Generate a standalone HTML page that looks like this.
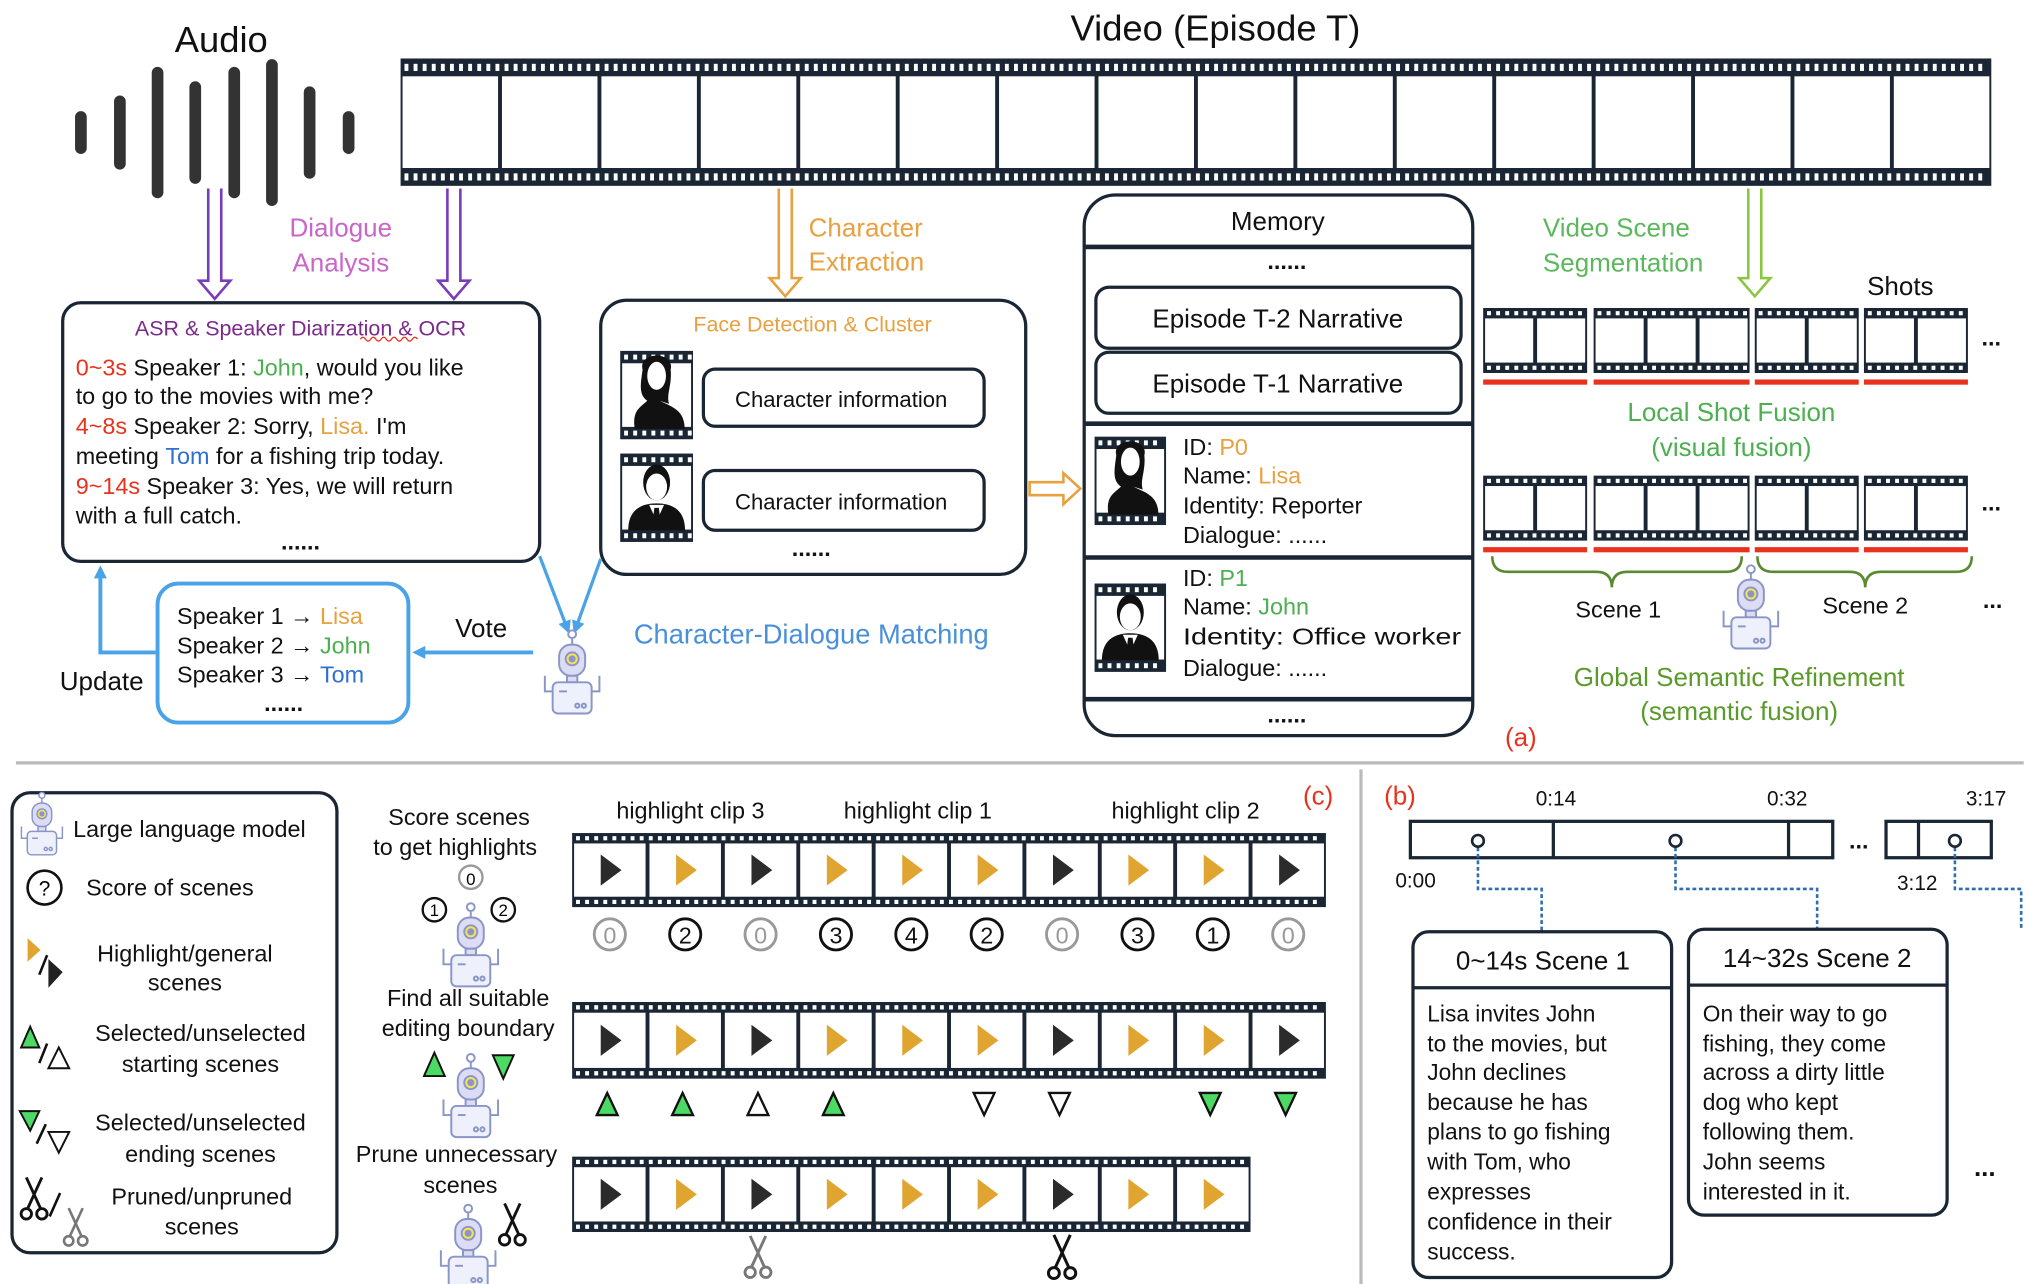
<!DOCTYPE html>
<html><head><meta charset="utf-8">
<style>
html,body{margin:0;padding:0;background:#fff;}
svg{display:block;}
text{font-family:"Liberation Sans",sans-serif;}
</style></head>
<body>
<svg id="s" width="2028" height="1284" viewBox="0 0 1560 988" xmlns="http://www.w3.org/2000/svg">
<defs>
<marker id="ab" markerWidth="10" markerHeight="10" refX="5" refY="5" orient="auto" markerUnits="userSpaceOnUse"><path d="M0,0 L10,5 L0,10 z" fill="#4aa3e8"/></marker>
</defs>
<g id="g"></g>
<!-- static text -->
<g font-size="18" fill="#111">
<text x="170" y="40" font-size="28" text-anchor="middle">Audio</text>
<text x="935" y="31" font-size="28" text-anchor="middle">Video (Episode T)</text>
<text x="262" y="182" font-size="20" fill="#c966c9" text-anchor="middle">Dialogue</text>
<text x="262" y="209" font-size="20" fill="#c966c9" text-anchor="middle">Analysis</text>
<text x="622" y="182" font-size="20" fill="#e8a040">Character</text>
<text x="622" y="208" font-size="20" fill="#e8a040">Extraction</text>
<text x="1187" y="182" font-size="20" fill="#5cb85c">Video Scene</text>
<text x="1187" y="209" font-size="20" fill="#5cb85c">Segmentation</text>
<text x="1462" y="227" font-size="20" text-anchor="middle">Shots</text>

<text x="231" y="258" font-size="16.5" fill="#7a2a8a" text-anchor="middle">ASR &amp; Speaker Diarization &amp; OCR</text>
<text x="58" y="289"><tspan fill="#e8321e">0~3s</tspan> Speaker 1: <tspan fill="#4caf50">John</tspan>, would you like</text>
<text x="58" y="311">to go to the movies with me?</text>
<text x="58" y="334"><tspan fill="#e8321e">4~8s</tspan> Speaker 2: Sorry, <tspan fill="#e8a040">Lisa.</tspan> I'm</text>
<text x="58" y="357">meeting <tspan fill="#2f6fd0">Tom</tspan> for a fishing trip today.</text>
<text x="58" y="380"><tspan fill="#e8321e">9~14s</tspan> Speaker 3: Yes, we will return</text>
<text x="58" y="403">with a full catch.</text>
<text x="231" y="423" text-anchor="middle" font-weight="bold">......</text>

<text x="625" y="255" font-size="16.5" fill="#e8a040" text-anchor="middle">Face Detection &amp; Cluster</text>
<text x="647" y="313" font-size="17" text-anchor="middle">Character information</text>
<text x="647" y="392" font-size="17" text-anchor="middle">Character information</text>
<text x="624" y="428" text-anchor="middle" font-weight="bold">......</text>

<text x="983" y="177" font-size="20" text-anchor="middle">Memory</text>
<text x="990" y="207" text-anchor="middle" font-weight="bold">......</text>
<text x="983" y="252" font-size="20" text-anchor="middle">Episode T-2 Narrative</text>
<text x="983" y="302" font-size="20" text-anchor="middle">Episode T-1 Narrative</text>
<text x="910" y="350">ID: <tspan fill="#e8a040">P0</tspan></text>
<text x="910" y="372">Name: <tspan fill="#e8a040">Lisa</tspan></text>
<text x="910" y="395">Identity: Reporter</text>
<text x="910" y="418">Dialogue: ......</text>
<text x="910" y="451">ID: <tspan fill="#4caf50">P1</tspan></text>
<text x="910" y="473">Name: <tspan fill="#4caf50">John</tspan></text>
<text x="910" y="496" textLength="214" lengthAdjust="spacingAndGlyphs">Identity: Office worker</text>
<text x="910" y="520">Dialogue: ......</text>
<text x="990" y="556" text-anchor="middle" font-weight="bold">......</text>

<text x="1532" y="266" text-anchor="middle" font-weight="bold">...</text>
<text x="1332" y="324" font-size="20" fill="#4caf50" text-anchor="middle">Local Shot Fusion</text>
<text x="1332" y="351" font-size="20" fill="#4caf50" text-anchor="middle">(visual fusion)</text>
<text x="1532" y="393" text-anchor="middle" font-weight="bold">...</text>
<text x="1245" y="475" text-anchor="middle">Scene 1</text>
<text x="1435" y="472" text-anchor="middle">Scene 2</text>
<text x="1533" y="468" text-anchor="middle" font-weight="bold">...</text>
<text x="1338" y="528" font-size="20" fill="#5a9a2a" text-anchor="middle">Global Semantic Refinement</text>
<text x="1338" y="554" font-size="20" fill="#5a9a2a" text-anchor="middle">(semantic fusion)</text>
<text x="1170" y="574" font-size="20" fill="#e8321e" text-anchor="middle">(a)</text>

<text x="624" y="495" font-size="21" fill="#4a90d9" text-anchor="middle">Character-Dialogue Matching</text>
<text x="370" y="490" font-size="20" text-anchor="middle">Vote</text>
<text x="78" y="531" font-size="20" text-anchor="middle">Update</text>
<text x="136" y="480">Speaker 1 → <tspan fill="#e8a040">Lisa</tspan></text>
<text x="136" y="503">Speaker 2 → <tspan fill="#4caf50">John</tspan></text>
<text x="136" y="525">Speaker 3 → <tspan fill="#2f6fd0">Tom</tspan></text>
<text x="218" y="547" text-anchor="middle" font-weight="bold">......</text>

<!-- legend -->
<text x="56" y="644">Large language model</text>
<text x="66" y="689">Score of scenes</text>
<text x="142" y="740" text-anchor="middle">Highlight/general</text>
<text x="142" y="762" text-anchor="middle">scenes</text>
<text x="154" y="801" text-anchor="middle">Selected/unselected</text>
<text x="154" y="825" text-anchor="middle">starting scenes</text>
<text x="154" y="870" text-anchor="middle">Selected/unselected</text>
<text x="154" y="894" text-anchor="middle">ending scenes</text>
<text x="155" y="927" text-anchor="middle">Pruned/unpruned</text>
<text x="155" y="950" text-anchor="middle">scenes</text>

<text x="353" y="635" text-anchor="middle">Score scenes</text>
<text x="350" y="658" text-anchor="middle">to get highlights</text>
<text x="360" y="774" text-anchor="middle">Find all suitable</text>
<text x="360" y="797" text-anchor="middle">editing boundary</text>
<text x="351" y="894" text-anchor="middle">Prune unnecessary</text>
<text x="354" y="918" text-anchor="middle">scenes</text>
<text x="531" y="630" text-anchor="middle">highlight clip 3</text>
<text x="706" y="630" text-anchor="middle">highlight clip 1</text>
<text x="912" y="630" text-anchor="middle">highlight clip 2</text>
<text x="1014" y="619" font-size="20" fill="#e8321e" text-anchor="middle">(c)</text>

<!-- b -->
<text x="1077" y="619" font-size="20" fill="#e8321e" text-anchor="middle">(b)</text>
<g font-size="16">
<text x="1197" y="620" text-anchor="middle">0:14</text>
<text x="1375" y="620" text-anchor="middle">0:32</text>
<text x="1528" y="620" text-anchor="middle">3:17</text>
<text x="1089" y="683" text-anchor="middle">0:00</text>
<text x="1475" y="685" text-anchor="middle">3:12</text>
</g>
<text x="1430" y="653" text-anchor="middle" font-weight="bold">...</text>
<text x="1187" y="746" font-size="20" text-anchor="middle">0~14s Scene 1</text>
<text x="1398" y="744" font-size="20" text-anchor="middle">14~32s Scene 2</text>
<g font-size="17.5">
<text x="1098" y="786">Lisa invites John</text>
<text x="1098" y="809">to the movies, but</text>
<text x="1098" y="831">John declines</text>
<text x="1098" y="854">because he has</text>
<text x="1098" y="877">plans to go fishing</text>
<text x="1098" y="900">with Tom, who</text>
<text x="1098" y="923">expresses</text>
<text x="1098" y="946">confidence in their</text>
<text x="1098" y="969">success.</text>
<text x="1310" y="786">On their way to go</text>
<text x="1310" y="809">fishing, they come</text>
<text x="1310" y="831">across a dirty little</text>
<text x="1310" y="854">dog who kept</text>
<text x="1310" y="877">following them.</text>
<text x="1310" y="900">John seems</text>
<text x="1310" y="923">interested in it.</text>
</g>
<text x="1527" y="905" font-size="20" text-anchor="middle" font-weight="bold">...</text>
</g>
</svg>
<script>
var o='';
var D='#1a2633';
function film(x,y,w,h,n,holes){
  var b=Math.max(8,h*0.14);
  o+='<rect x="'+x+'" y="'+y+'" width="'+w+'" height="'+h+'" fill="'+D+'"/>';
  var hw=3,step=7;
  for(var i=x+3;i<x+w-3;i+=step){
    o+='<rect x="'+i+'" y="'+(y+b*0.3)+'" width="'+hw+'" height="'+(b*0.4)+'" fill="#fff"/>';
    o+='<rect x="'+i+'" y="'+(y+h-b*0.7)+'" width="'+hw+'" height="'+(b*0.4)+'" fill="#fff"/>';
  }
  var fw=w/n;
  for(var k=0;k<n;k++){
    o+='<rect x="'+(x+k*fw+1.5)+'" y="'+(y+b)+'" width="'+(fw-3)+'" height="'+(h-2*b)+'" fill="#fff"/>';
  }
  return fw;
}
function robot(cx,cy,s){
  s=s||1;
  o+='<g transform="translate('+cx+','+cy+') scale('+s+')" stroke="#8a95c8" stroke-width="1.5" fill="none">';
  o+='<line x1="0" y1="-30" x2="0" y2="-24"/><circle cx="0" cy="-32" r="3" fill="#fff"/>';
  o+='<rect x="-10" y="-24" width="20" height="24" rx="9" fill="#dcdcf5"/>';
  o+='<circle cx="0" cy="-13" r="5" fill="#f7e25a"/><circle cx="0" cy="-13" r="2" fill="#8a95c8"/>';
  o+='<rect x="-4" y="0" width="8" height="5" fill="#dcdcf5"/>';
  o+='<rect x="-15" y="5" width="30" height="24" rx="4" fill="#eef1fb"/>';
  o+='<path d="M-15,12 h-6 v-12 M15,12 h6 v-12"/>';
  o+='<circle cx="4" cy="23" r="1.6"/><circle cx="9" cy="23" r="1.6"/><line x1="-10" y1="12" x2="-4" y2="12"/>';
  o+='</g>';
}
function play(cx,cy,c){
  o+='<path d="M'+(cx-7)+','+(cy-12)+' L'+(cx+9)+','+cy+' L'+(cx-7)+','+(cy+12)+' z" fill="'+c+'"/>';
}
function hollowDown(x,y1,y2,c){
  o+='<path d="M'+(x-5)+','+y1+' V'+(y2-14)+' H'+(x-12)+' L'+x+','+y2+' L'+(x+12)+','+(y2-14)+' H'+(x+5)+' V'+y1+'" fill="#fff" stroke="'+c+'" stroke-width="2"/>';
}
function woman(cx,cy,s){
  o+='<g transform="translate('+cx+','+cy+') scale('+s+')"><path d="M-9,-18 C-12,-30 12,-30 9,-18 C10,-8 6,-2 8,4 L2,2 C10,6 18,8 18,20 H-14 C-16,8 -10,6 -6,2 C-12,-2 -10,-10 -9,-18z" fill="#111"/><ellipse cx="0" cy="-14" rx="6" ry="9" fill="#fff"/></g>';
}
function man(cx,cy,s){
  o+='<g transform="translate('+cx+','+cy+') scale('+s+')"><ellipse cx="0" cy="-12" rx="9" ry="12" fill="#111"/><path d="M-19,20 C-19,6 -10,2 0,2 C10,2 19,6 19,20z" fill="#111"/><ellipse cx="0" cy="-9" rx="7" ry="9" fill="#fff"/><path d="M-5,3 L0,14 L5,3z" fill="#fff"/><path d="M-1.5,5 h3 l1,8 l-2.5,3 l-2.5,-3z" fill="#111"/></g>';
}
function portrait(x,y,w,h,type){
  film(x,y,w,h,1);
  if(type==0) woman(x+w/2,y+h/2+2,1.2); else man(x+w/2,y+h/2+2,1.15);
}
// audio bars
var bars=[[62,24],[92,48],[121,92],[150,70],[180,92],[209,104],[238,62],[268,24]];
bars.forEach(function(b){o+='<line x1="'+b[0]+'" y1="'+(102-b[1]/2)+'" x2="'+b[0]+'" y2="'+(102+b[1]/2)+'" stroke="#333" stroke-width="9" stroke-linecap="round"/>';});
// top video film
film(308,45,1224,98,16);
// arrows
hollowDown(165,145,230,'#7a3db8');hollowDown(349,145,230,'#7a3db8');
hollowDown(604,145,228,'#e8a040');
hollowDown(1350,145,228,'#8cc63f');
// orange right arrow
o+='<path d="M792,371 H818 V364 L831,376 L818,388 V381 H792z" fill="#fff" stroke="#e8a040" stroke-width="2"/>';
// ASR box
o+='<rect x="48" y="233" width="367" height="199" rx="14" fill="none" stroke="'+D+'" stroke-width="2.5"/>';
o+='<path d="M277,261 q2,-3 4,0 t4,0 t4,0 t4,0 t4,0 t4,0 t4,0 t4,0 t4,0 t4,0 t4,0" stroke="#e8321e" stroke-width="1" fill="none"/>';
// face box
o+='<rect x="462" y="231" width="327" height="211" rx="20" fill="none" stroke="'+D+'" stroke-width="2.5"/>';
portrait(477,270,56,68,0);portrait(477,349,56,68,1);
o+='<rect x="541" y="284" width="216" height="44" rx="9" fill="none" stroke="'+D+'" stroke-width="2.5"/>';
o+='<rect x="541" y="362" width="216" height="46" rx="9" fill="none" stroke="'+D+'" stroke-width="2.5"/>';
// memory box
o+='<rect x="834" y="150" width="299" height="416" rx="24" fill="none" stroke="'+D+'" stroke-width="2.5"/>';
[190,326,429,538].forEach(function(y){o+='<line x1="834" y1="'+y+'" x2="1133" y2="'+y+'" stroke="'+D+'" stroke-width="3.5"/>';});
o+='<rect x="843" y="221" width="281" height="47" rx="10" fill="none" stroke="'+D+'" stroke-width="2.5"/>';
o+='<rect x="843" y="271" width="281" height="47" rx="10" fill="none" stroke="'+D+'" stroke-width="2.5"/>';
portrait(842,336,55,68,0);portrait(842,449,55,68,1);
// shots
function shotRow(y){
  [[1141,80,2],[1226,120,3],[1350,80,2],[1434,80,2]].forEach(function(s){film(s[0],y,s[1],50,s[2]);o+='<rect x="'+s[0]+'" y="'+(y+55)+'" width="'+s[1]+'" height="4" fill="#e8321e"/>';});
}
shotRow(237);shotRow(366);
// braces
o+='<path d="M1148,428 q0,12 12,12 h68 q12,0 12,12 q0,-12 12,-12 h76 q12,0 12,-12" stroke="#5a8a30" stroke-width="2" fill="none"/>';
o+='<path d="M1352,428 q0,12 12,12 h59 q12,0 12,12 q0,-12 12,-12 h58 q12,0 12,-12" stroke="#5a8a30" stroke-width="2" fill="none"/>';
robot(1347,470,1);
// blue connectors
o+='<line x1="415" y1="428" x2="436" y2="483" stroke="#4aa3e8" stroke-width="2.5" marker-end="url(#ab)"/>';
o+='<line x1="462" y1="430" x2="443" y2="483" stroke="#4aa3e8" stroke-width="2.5" marker-end="url(#ab)"/>';
robot(440,520,1);
o+='<line x1="410" y1="502" x2="322" y2="502" stroke="#4aa3e8" stroke-width="3" marker-end="url(#ab)"/>';
o+='<rect x="121" y="449" width="193" height="107" rx="16" fill="none" stroke="#4aa3e8" stroke-width="3"/>';
o+='<path d="M121,502 H77 V440" stroke="#4aa3e8" stroke-width="3" fill="none" marker-end="url(#ab)"/>';
// separators
o+='<line x1="12" y1="587" x2="1557" y2="587" stroke="#bbb" stroke-width="2.5"/>';
o+='<line x1="1047" y1="592" x2="1047" y2="988" stroke="#bbb" stroke-width="2.5"/>';
// legend
o+='<rect x="9" y="610" width="250" height="354" rx="14" fill="none" stroke="'+D+'" stroke-width="2.5"/>';
robot(32,636,0.75);
o+='<circle cx="34" cy="683" r="13" fill="#fff" stroke="#111" stroke-width="2"/><text x="34" y="689" font-size="16" text-anchor="middle" font-family="Liberation Sans">?</text>';
o+='<path d="M21,722 L31,731 L21,740z" fill="#e0a530"/><line x1="30" y1="750" x2="36" y2="735" stroke="#111" stroke-width="2"/><path d="M37,738 L48,748 L37,760z" fill="#222"/>';
o+='<path d="M16,806 L23,790 L30,806z" fill="#4cd964" stroke="#111" stroke-width="1.5"/><line x1="30" y1="818" x2="36" y2="803" stroke="#111" stroke-width="2"/><path d="M37,822 L45,806 L53,822z" fill="#fff" stroke="#111" stroke-width="1.5"/>';
o+='<path d="M15,855 L30,855 L23,870z" fill="#4cd964" stroke="#111" stroke-width="1.5"/><line x1="28" y1="880" x2="35" y2="865" stroke="#111" stroke-width="2"/><path d="M37,871 L53,871 L45,887z" fill="#fff" stroke="#111" stroke-width="1.5"/>';
function sc(x,y,c,s){o+='<g transform="translate('+x+','+y+') scale('+s+')" stroke="'+c+'" stroke-width="2.2" fill="none"><line x1="-6" y1="-16" x2="5" y2="8"/><line x1="6" y1="-16" x2="-5" y2="8"/><circle cx="-6" cy="12" r="4"/><circle cx="6" cy="12" r="4"/></g>';}
sc(26,922,'#111',1);o+='<line x1="38" y1="936" x2="46" y2="918" stroke="#111" stroke-width="2"/>';sc(58,944,'#777',0.9);
// section c robots
robot(362,730,1);
o+='<circle cx="362" cy="675" r="9" fill="#fff" stroke="#999" stroke-width="1.8"/><text x="362" y="681" font-size="13" text-anchor="middle" font-family="Liberation Sans">0</text>';
o+='<circle cx="334" cy="700" r="9" fill="#fff" stroke="#111" stroke-width="1.8"/><text x="334" y="705" font-size="13" text-anchor="middle" font-family="Liberation Sans">1</text>';
o+='<circle cx="387" cy="700" r="9" fill="#fff" stroke="#111" stroke-width="1.8"/><text x="387" y="705" font-size="13" text-anchor="middle" font-family="Liberation Sans">2</text>';
robot(362,846,1);
o+='<path d="M326,828 L334,810 L342,828z" fill="#4cd964" stroke="#111" stroke-width="1.5"/><path d="M379,812 L395,812 L387,830z" fill="#4cd964" stroke="#111" stroke-width="1.5"/>';
robot(360,962,1);
sc(394,942,'#111',1);
// film rows
var pat=['d','g','d','g','g','g','d','g','g','d'];
function cfilm(y,h,n){
  var fw=film(440,y,58*n,h,n);
  for(var i=0;i<n;i++) play(440+i*58+29,y+h/2,pat[i]=='d'?'#2b2b2b':'#e0a530');
}
cfilm(641,57,10);cfilm(771,59,10);cfilm(890,58,9);
var sco=[0,2,0,3,4,2,0,3,1,0];
sco.forEach(function(v,i){var cx=469+58*i,c=v==0?'#999':'#111';o+='<circle cx="'+cx+'" cy="719" r="12" fill="#fff" stroke="'+c+'" stroke-width="2.2"/><text x="'+cx+'" y="726" font-size="18" text-anchor="middle" fill="'+c+'" font-family="Liberation Sans">'+v+'</text>';});
[[0,'uf'],[1,'uf'],[2,'uh'],[3,'uf'],[5,'dh'],[6,'dh'],[8,'df'],[9,'df']].forEach(function(t){
  var cx=469+58*t[0]-2,f=t[1][1]=='f'?'#4cd964':'#fff';
  if(t[1][0]=='u') o+='<path d="M'+(cx-8)+',858 L'+cx+',841 L'+(cx+8)+',858z" fill="'+f+'" stroke="#111" stroke-width="1.8"/>';
  else o+='<path d="M'+(cx-8)+',841 L'+(cx+8)+',841 L'+cx+',858z" fill="'+f+'" stroke="#111" stroke-width="1.8"/>';
});
sc(583,967,'#777',1);sc(817,967,'#111',1.05);
// (b) timeline
o+='<rect x="1085" y="632" width="325" height="28" fill="none" stroke="'+D+'" stroke-width="2.5"/>';
o+='<line x1="1195" y1="632" x2="1195" y2="660" stroke="'+D+'" stroke-width="2.5"/><line x1="1376" y1="632" x2="1376" y2="660" stroke="'+D+'" stroke-width="2.5"/>';
o+='<rect x="1451" y="632" width="81" height="28" fill="none" stroke="'+D+'" stroke-width="2.5"/><line x1="1476" y1="632" x2="1476" y2="660" stroke="'+D+'" stroke-width="2.5"/>';
[[1137,1186],[1289,1398],[1504,1555]].forEach(function(p){
  o+='<path d="M'+p[0]+',652 V684 H'+p[1]+' V716" stroke="#2f6fb0" stroke-width="2" stroke-dasharray="3,2" fill="none"/>';
  o+='<circle cx="'+p[0]+'" cy="647" r="4.5" fill="#fff" stroke="'+D+'" stroke-width="2"/>';
});
o+='<rect x="1087" y="717" width="199" height="266" rx="12" fill="none" stroke="'+D+'" stroke-width="2.5"/><line x1="1087" y1="760" x2="1286" y2="760" stroke="'+D+'" stroke-width="2.5"/>';
o+='<rect x="1299" y="715" width="199" height="220" rx="12" fill="none" stroke="'+D+'" stroke-width="2.5"/><line x1="1299" y1="758" x2="1498" y2="758" stroke="'+D+'" stroke-width="2.5"/>';
document.getElementById('g').innerHTML=o;
</script>
</body></html>
